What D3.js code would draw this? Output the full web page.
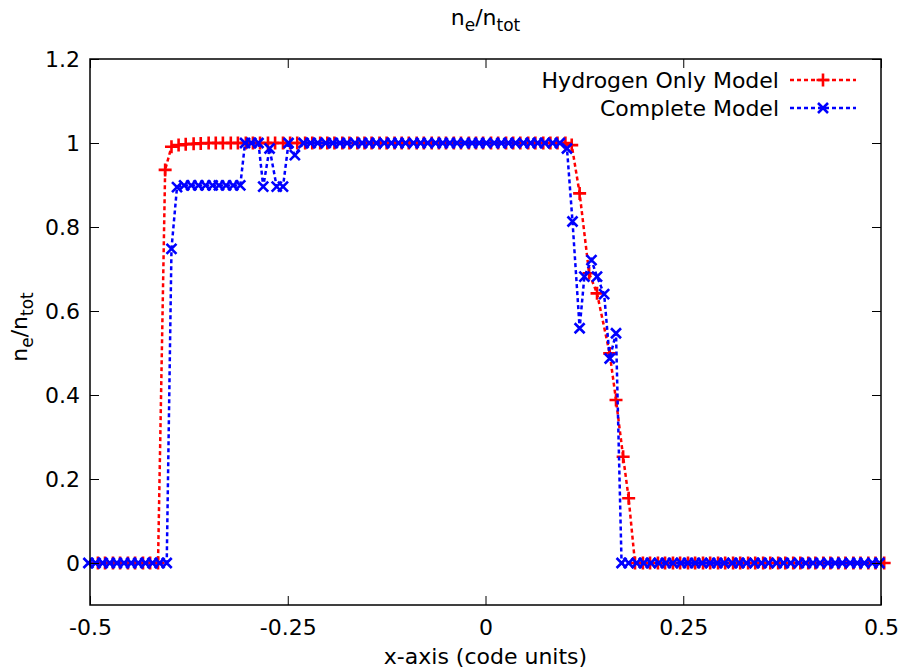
<!DOCTYPE html>
<html>
<head>
<meta charset="utf-8">
<script src="https://cdn.jsdelivr.net/npm/d3@7"></script>
<style>
    body { margin: 0; background: #fff; }
    svg { display: block; font-family: "DejaVu Sans", sans-serif; }
</style>
</head>
<body>
<div id="chart"></div>
<script>
// Hydrogen Only Model (red, "+")
const hydrogenX = [
    -0.490, -0.481, -0.471, -0.462, -0.452, -0.443, -0.433, -0.424, -0.414,
    -0.405, -0.397,
    -0.388, -0.379, -0.369, -0.360, -0.350, -0.341, -0.332, -0.322, -0.313, -0.303,
    -0.294, -0.285, -0.275, -0.266, -0.256, -0.247, -0.238, -0.228, -0.219, -0.209,
    -0.200, -0.191, -0.181, -0.172, -0.162, -0.153, -0.144, -0.134, -0.125, -0.115,
    -0.106, -0.097, -0.087, -0.078, -0.068, -0.059, -0.050, -0.040, -0.031, -0.021,
    -0.012, -0.003, 0.007, 0.016, 0.026, 0.035, 0.044, 0.054, 0.063, 0.073,
    0.082, 0.091, 0.101,
    0.109, 0.119, 0.131, 0.141, 0.157, 0.165, 0.174, 0.181,
    0.189, 0.199, 0.208, 0.218, 0.227, 0.237, 0.246, 0.256, 0.265, 0.275,
    0.284, 0.294, 0.303, 0.313, 0.322, 0.332, 0.341, 0.351, 0.360, 0.370,
    0.379, 0.389, 0.398, 0.408, 0.417, 0.427, 0.436, 0.446, 0.455, 0.465,
    0.474, 0.484, 0.493, 0.504
];
const hydrogenY = [
    0, 0, 0, 0, 0, 0, 0, 0, 0,
    0.936, 0.991,
    0.995, 0.997, 0.998, 0.999, 1, 1, 1, 1, 1, 1,
    1, 1, 1, 1, 1, 1, 1, 1, 1, 1,
    1, 1, 1, 1, 1, 1, 1, 1, 1, 1,
    1, 1, 1, 1, 1, 1, 1, 1, 1, 1,
    1, 1, 1, 1, 1, 1, 1, 1, 1, 1,
    1, 1, 1,
    0.995, 0.880, 0.690, 0.642, 0.499, 0.388, 0.253, 0.154,
    0, 0, 0, 0, 0, 0, 0, 0, 0, 0,
    0, 0, 0, 0, 0, 0, 0, 0, 0, 0,
    0, 0, 0, 0, 0, 0, 0, 0, 0, 0,
    0, 0, 0, 0
];

// Complete Model (blue, "x")
const completeX = [
    -0.502, -0.493, -0.484, -0.475, -0.466, -0.457, -0.448, -0.439, -0.430, -0.421,
    -0.412, -0.403,
    -0.397, -0.390,
    -0.381, -0.372, -0.363, -0.354, -0.345, -0.337, -0.328, -0.319, -0.310,
    -0.304, -0.296, -0.287, -0.281, -0.273, -0.264, -0.256, -0.249, -0.241,
    -0.230, -0.221, -0.212, -0.202, -0.193, -0.184, -0.175, -0.165, -0.156, -0.147,
    -0.138, -0.128, -0.119, -0.110, -0.101, -0.091, -0.082, -0.073, -0.063, -0.054,
    -0.045, -0.036, -0.026, -0.017, -0.008, 0.001, 0.011, 0.020, 0.029, 0.038,
    0.048, 0.057, 0.066, 0.075, 0.085, 0.094,
    0.103, 0.110, 0.119, 0.125, 0.134, 0.141, 0.150, 0.157, 0.165,
    0.172, 0.181, 0.191, 0.200, 0.209, 0.219, 0.228, 0.237, 0.247, 0.256,
    0.265, 0.274, 0.284, 0.293, 0.302, 0.312, 0.321, 0.330, 0.340, 0.349,
    0.358, 0.368, 0.377, 0.386, 0.396, 0.405, 0.414, 0.423, 0.433, 0.442,
    0.451, 0.461, 0.470, 0.479, 0.489, 0.498
];
const completeY = [
    0, 0, 0, 0, 0, 0, 0, 0, 0, 0,
    0, 0,
    0.748, 0.895,
    0.899, 0.899, 0.899, 0.899, 0.899, 0.899, 0.899, 0.899, 0.899,
    1, 1, 1, 0.896, 0.987, 0.896, 0.896, 1, 0.971,
    1, 1, 1, 1, 1, 1, 1, 1, 1, 1,
    1, 1, 1, 1, 1, 1, 1, 1, 1, 1,
    1, 1, 1, 1, 1, 1, 1, 1, 1, 1,
    1, 1, 1, 1, 1, 1,
    0.987, 0.813, 0.559, 0.682, 0.721, 0.682, 0.640, 0.487, 0.547,
    0, 0, 0, 0, 0, 0, 0, 0, 0, 0,
    0, 0, 0, 0, 0, 0, 0, 0, 0, 0,
    0, 0, 0, 0, 0, 0, 0, 0, 0, 0,
    0, 0, 0, 0, 0, 0
];

const xTicks = [-0.5, -0.25, 0, 0.25, 0.5];
const xTickLabels = ['-0.5', '-0.25', '0', '0.25', '0.5'];
const yTicks = [0, 0.2, 0.4, 0.6, 0.8, 1, 1.2];
const yTickLabels = ['0', '0.2', '0.4', '0.6', '0.8', '1', '1.2'];

const seriesNames = ['Hydrogen Only Model', 'Complete Model'];
const seriesColors = ['#ff0000', '#0000ff'];
const seriesMarkers = ['plus', 'cross'];

const width = 901, height = 672;
const margin = { top: 59, right: 20, bottom: 67, left: 90 };
const plotW = width - margin.left - margin.right;
const plotH = height - margin.top - margin.bottom;
const fontSize = 22;

const series = [
    { name: seriesNames[0], color: seriesColors[0], marker: seriesMarkers[0],
      data: hydrogenX.map((x, i) => ({ x, y: hydrogenY[i] })) },
    { name: seriesNames[1], color: seriesColors[1], marker: seriesMarkers[1],
      data: completeX.map((x, i) => ({ x, y: completeY[i] })) }
];

const markerPath = {
    plus: 'M-6.5,0H6.5M0,-6.5V6.5',
    cross: 'M-5,-5L5,5M-5,5L5,-5'
};

const svg = d3.select('#chart').append('svg')
    .attr('width', width)
    .attr('height', height);

const x = d3.scaleLinear().domain([-0.5, 0.5]).range([0, plotW]);
const y = d3.scaleLinear().domain([-0.1, 1.2]).range([plotH, 0]);

const chart = svg.append('g')
    .attr('transform', `translate(${margin.left}, ${margin.top})`);

// lines + points, red first so blue sits on top
const lineGen = d3.line().x(d => x(d.x)).y(d => y(d.y));

series.forEach(s => {
    const g = chart.append('g');
    g.append('path')
        .attr('d', lineGen(s.data))
        .attr('fill', 'none')
        .attr('stroke', s.color)
        .attr('stroke-width', 2.5)
        .attr('stroke-dasharray', '4,3');
    g.selectAll('.pt')
        .data(s.data)
        .join('path')
        .attr('class', 'pt')
        .attr('transform', d => `translate(${x(d.x)}, ${y(d.y)})`)
        .attr('d', markerPath[s.marker])
        .attr('fill', 'none')
        .attr('stroke', s.color)
        .attr('stroke-width', 2.6);
});

// axes: gnuplot style inward ticks, mirrored
const tickLen = 9;
const axisStyle = g => {
    g.select('.domain').remove();
    g.selectAll('.tick line').attr('stroke', '#000').attr('stroke-width', 1);
    g.selectAll('.tick text')
        .attr('fill', '#000')
        .style('font-size', fontSize + 'px')
        .style('font-family', '"DejaVu Sans", sans-serif');
};

chart.append('g')
    .attr('transform', `translate(0, ${plotH})`)
    .call(d3.axisBottom(x).tickValues(xTicks)
        .tickFormat((d, i) => xTickLabels[i])
        .tickSizeInner(-tickLen).tickSizeOuter(0).tickPadding(14))
    .call(axisStyle);

chart.append('g')
    .call(d3.axisTop(x).tickValues(xTicks).tickFormat('')
        .tickSizeInner(-tickLen).tickSizeOuter(0))
    .call(axisStyle);

chart.append('g')
    .call(d3.axisLeft(y).tickValues(yTicks)
        .tickFormat((d, i) => yTickLabels[i])
        .tickSizeInner(-tickLen).tickSizeOuter(0).tickPadding(10))
    .call(axisStyle);

chart.append('g')
    .attr('transform', `translate(${plotW}, 0)`)
    .call(d3.axisRight(y).tickValues(yTicks).tickFormat('')
        .tickSizeInner(-tickLen).tickSizeOuter(0))
    .call(axisStyle);

// frame
chart.append('rect')
    .attr('x', 0).attr('y', 0)
    .attr('width', plotW).attr('height', plotH)
    .attr('fill', 'none')
    .attr('stroke', '#000')
    .attr('stroke-width', 1.5);

// n_e/n_tot with subscripts
function neLabel(text) {
    text.style('font-size', fontSize + 'px');
    text.append('tspan').text('n');
    text.append('tspan').attr('dy', 6).style('font-size', '17px').text('e');
    text.append('tspan').attr('dy', -6).text('/n');
    text.append('tspan').attr('dy', 6).style('font-size', '17px').text('tot');
}

svg.append('text')
    .attr('x', margin.left + plotW / 2)
    .attr('y', 25)
    .attr('text-anchor', 'middle')
    .call(neLabel);

svg.append('text')
    .attr('transform', `translate(27, ${margin.top + plotH / 2 - 5}) rotate(-90)`)
    .attr('text-anchor', 'middle')
    .call(neLabel);

svg.append('text')
    .attr('x', margin.left + plotW / 2)
    .attr('y', 664)
    .attr('text-anchor', 'middle')
    .style('font-size', fontSize + 'px')
    .text('x-axis (code units)');

// legend
const legend = svg.append('g')
    .attr('transform', `translate(${margin.left + plotW - 91}, ${margin.top + 21})`);

series.forEach((s, i) => {
    const row = legend.append('g').attr('transform', `translate(0, ${i * 28})`);
    row.append('text')
        .attr('x', -11)
        .attr('y', 8)
        .attr('text-anchor', 'end')
        .style('font-size', fontSize + 'px')
        .text(s.name);
    row.append('line')
        .attr('x1', 0).attr('x2', 66)
        .attr('stroke', s.color)
        .attr('stroke-width', 2.5)
        .attr('stroke-dasharray', '4,3');
    row.append('path')
        .attr('transform', 'translate(33, 0)')
        .attr('d', markerPath[s.marker])
        .attr('fill', 'none')
        .attr('stroke', s.color)
        .attr('stroke-width', 2.6);
});
</script>
</body>
</html>
